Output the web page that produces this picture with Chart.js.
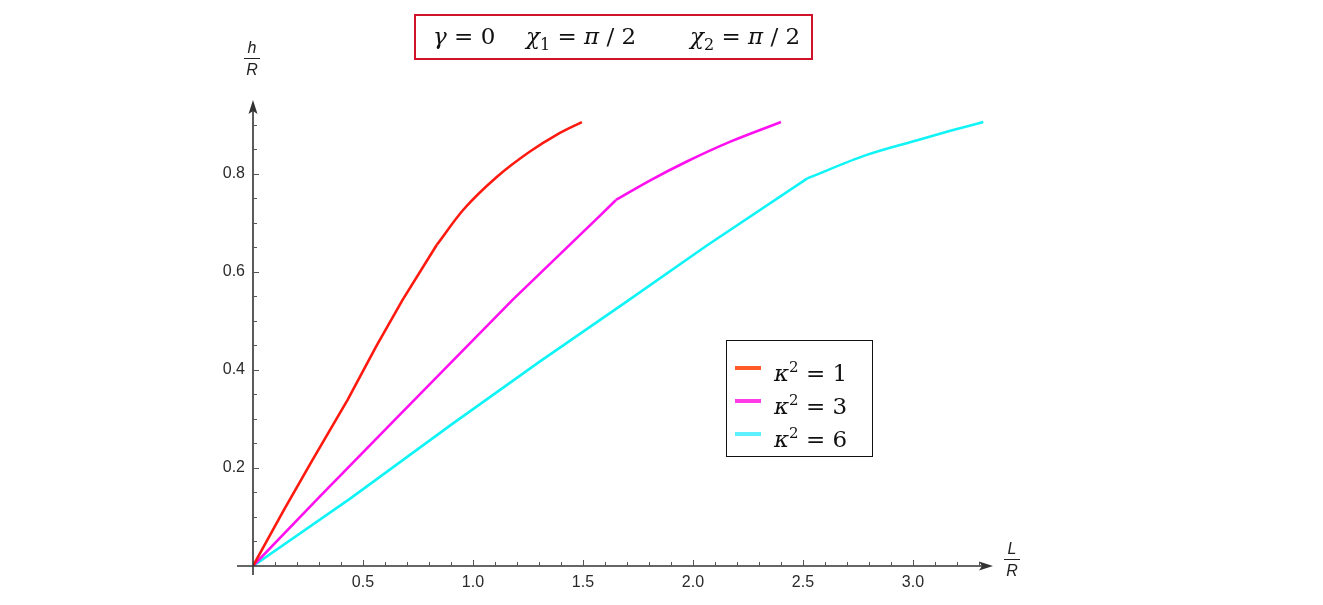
<!DOCTYPE html>
<html lang="en">
<head>
    <meta charset="UTF-8">
    <title>h/R vs L/R</title>
    <script src="https://cdn.jsdelivr.net/npm/chart.js"></script>
    <style>
        body { margin: 0; background: #fff; }
        #wrap { position: relative; width: 1323px; height: 605px; }
        canvas { position: absolute; left: 0; top: 0; }
        .math { font-family: "DejaVu Serif", "Liberation Serif", serif; color: #111; }
        .math i { font-style: italic; }
        #title {
            position: absolute; left: 414px; top: 14px; width: 399px; height: 46px;
            border: 2px solid #d0132a; box-sizing: border-box;
            font-size: 23px; line-height: 41px; white-space: pre;
        }
        #title span { position: absolute; top: 0; }
        #legend {
            position: absolute; left: 726px; top: 340px; width: 147px; height: 117px;
            border: 1.5px solid #111; box-sizing: border-box; font-size: 23px;
        }
        .row { position: absolute; left: 0; height: 33px; line-height: 33px; }
        .sw { position: absolute; left: 8px; top: 15px; width: 26px; height: 4px; }
        .lab { position: absolute; left: 47px; white-space: pre; }
        .frac { position: absolute; font-family: "Liberation Sans", Arial, sans-serif; font-style: italic;
            font-size: 16px; color: #222; text-align: center; width: 22px; }
        .frac span { display: block; line-height: 17px; }
        .frac .bar { height: 0; border-top: 1.5px solid #222; margin: 2px 3px 2px 3px; }
    </style>
</head>
<body>
<div id="wrap">
    <canvas id="chart" width="1323" height="605"></canvas>
    <div id="title" class="math">
        <span style="left:17px"><i>γ</i> = 0</span>
        <span style="left:110px"><i>χ</i><sub style="font-size:16px">1</sub> = <i>π</i> / 2</span>
        <span style="left:274px"><i>χ</i><sub style="font-size:16px">2</sub> = <i>π</i> / 2</span>
    </div>
    <div id="legend" class="math">
        <div class="row" style="top:10px"><div class="sw" style="background:#ff5a28"></div><div class="lab"><i>κ</i><sup style="font-size:15px">2</sup> = 1</div></div>
        <div class="row" style="top:43px"><div class="sw" style="background:#ff3ce6"></div><div class="lab"><i>κ</i><sup style="font-size:15px">2</sup> = 3</div></div>
        <div class="row" style="top:76px"><div class="sw" style="background:#5ef0ff"></div><div class="lab"><i>κ</i><sup style="font-size:15px">2</sup> = 6</div></div>
    </div>
    <div class="frac" style="left:241px; top:39px"><span>h</span><div class="bar"></div><span>R</span></div>
    <div class="frac" style="left:1001px; top:540px"><span>L</span><div class="bar"></div><span>R</span></div>
</div>

<script>
    // values (L/R, h/R); kink = index of the corner point
    const redL = [0, 0.14, 0.27, 0.43, 0.56, 0.68, 0.835, 0.956, 1.108, 1.259, 1.38, 1.495];
    const redH = [0, 0.114, 0.216, 0.339, 0.448, 0.543, 0.655, 0.727, 0.794, 0.846, 0.88, 0.906];
    const redKink = 6;

    const magentaL = [0, 0.3, 0.67, 1.18, 1.58, 1.65, 1.81, 1.97, 2.17, 2.40];
    const magentaH = [0, 0.14, 0.31, 0.543, 0.716, 0.747, 0.788, 0.825, 0.866, 0.906];
    const magentaKink = 5;

    const cyanL = [0, 0.44, 0.9, 1.3, 1.69, 2.06, 2.52, 2.79, 3.02, 3.17, 3.32];
    const cyanH = [0, 0.137, 0.288, 0.416, 0.537, 0.653, 0.791, 0.839, 0.869, 0.888, 0.906];
    const cyanKink = 6;

    const xTicks = [0.5, 1.0, 1.5, 2.0, 2.5, 3.0];
    const yTicks = [0.2, 0.4, 0.6, 0.8];
    const xMinorStep = 0.1, xMinorMax = 3.3;
    const yMinorStep = 0.05, yMinorMax = 0.9;

    const toPoints = (xs, ys) => xs.map((x, i) => ({ x: x, y: ys[i] }));

    // hand-drawn axes with arrows, minor ticks and labels
    const axesPlugin = {
        id: 'axes',
        afterDatasetsDraw(chart) {
            const ctx = chart.ctx;
            const sx = chart.scales.x, sy = chart.scales.y;
            const x0 = sx.getPixelForValue(0), y0 = sy.getPixelForValue(0);
            const xEnd = sx.right, yEnd = sy.top;
            ctx.save();
            ctx.strokeStyle = '#333';
            ctx.fillStyle = '#333';
            ctx.lineWidth = 1.6;
            ctx.beginPath();
            ctx.moveTo(x0 - 16, y0); ctx.lineTo(xEnd - 8, y0);
            ctx.moveTo(x0, y0 + 9); ctx.lineTo(x0, yEnd + 8);
            ctx.stroke();
            // arrow heads
            ctx.beginPath();
            ctx.moveTo(xEnd, y0); ctx.lineTo(xEnd - 14, y0 - 4.5); ctx.lineTo(xEnd - 11, y0); ctx.lineTo(xEnd - 14, y0 + 4.5); ctx.closePath();
            ctx.moveTo(x0, yEnd); ctx.lineTo(x0 - 4.5, yEnd + 14); ctx.lineTo(x0, yEnd + 11); ctx.lineTo(x0 + 4.5, yEnd + 14); ctx.closePath();
            ctx.fill();

            // ticks
            ctx.lineWidth = 1;
            ctx.strokeStyle = '#555';
            ctx.beginPath();
            for (let k = 1; k * xMinorStep <= xMinorMax + 1e-9; k++) {
                const v = k * xMinorStep;
                const major = xTicks.some(t => Math.abs(t - v) < 1e-9);
                const px = Math.round(sx.getPixelForValue(v)) + 0.5;
                ctx.moveTo(px, y0); ctx.lineTo(px, y0 - (major ? 6 : 4));
            }
            for (let k = 1; k * yMinorStep <= yMinorMax + 1e-9; k++) {
                const v = k * yMinorStep;
                const major = yTicks.some(t => Math.abs(t - v) < 1e-9);
                const py = Math.round(sy.getPixelForValue(v)) + 0.5;
                ctx.moveTo(x0, py); ctx.lineTo(x0 + (major ? 6 : 4), py);
            }
            ctx.stroke();

            // tick labels
            ctx.fillStyle = '#2a2a2a';
            ctx.font = '16px "Liberation Sans", Arial, sans-serif';
            ctx.textAlign = 'center';
            ctx.textBaseline = 'middle';
            xTicks.forEach(t => ctx.fillText(t.toFixed(1), sx.getPixelForValue(t), y0 + 17));
            ctx.textAlign = 'right';
            yTicks.forEach(t => ctx.fillText(t.toFixed(1), x0 - 8, sy.getPixelForValue(t)));
            ctx.restore();
        }
    };

    // straight part up to the corner, smooth part after it
    const curve = (xs, ys, kink, color) => {
        const pts = toPoints(xs, ys);
        const base = { borderColor: color, borderWidth: 2.6, showLine: true, pointRadius: 0, fill: false };
        return [
            Object.assign({ data: pts.slice(0, kink + 1), tension: 0 }, base),
            Object.assign({ data: pts.slice(kink), cubicInterpolationMode: 'monotone' }, base)
        ];
    };

    new Chart(document.getElementById('chart'), {
        type: 'scatter',
        data: {
            datasets: [
                ...curve(redL, redH, redKink, '#ff1a10'),
                ...curve(magentaL, magentaH, magentaKink, '#ff10f0'),
                ...curve(cyanL, cyanH, cyanKink, '#10f4f8')
            ]
        },
        options: {
            responsive: false,
            animation: false,
            layout: { padding: { left: 253, right: 330, top: 100, bottom: 39 } },
            plugins: { legend: { display: false }, tooltip: { enabled: false } },
            scales: {
                x: { type: 'linear', min: 0, max: 3.364, display: false },
                y: { type: 'linear', min: 0, max: 0.951, display: false }
            }
        },
        plugins: [axesPlugin]
    });
</script>
</body>
</html>
